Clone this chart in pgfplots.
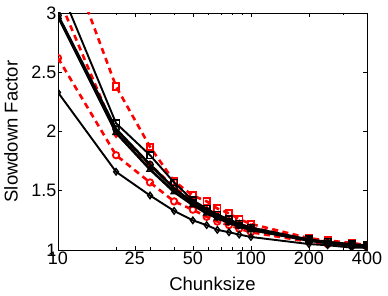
\documentclass[border=0pt]{standalone}
\usepackage{fontspec}
\setmainfont{Liberation Sans}
\usepackage{pgfplots}
\pgfplotsset{compat=1.18}
\usepackage{pgfplotstable}
\pgfplotstableread{
x    k1   k2   k3   k4   r1   r2   r3
10   3.25 2.97 2.98 2.33 3.70 2.62 3.14
20   2.07 1.99 2.02 1.66 2.38 1.80 1.98
30   1.80 1.68 1.72 1.46 1.87 1.57 1.72
40   1.57 1.49 1.52 1.33 1.58 1.41 1.53
50   1.42 1.38 1.40 1.25 1.46 1.34 1.41
59   1.35 1.31 1.33 1.21 1.41 1.28 1.34
67   1.30 1.27 1.28 1.17 1.35 1.24 1.29
77   1.26 1.23 1.24 1.15 1.31 1.21 1.25
87   1.22 1.20 1.21 1.13 1.26 1.18 1.22
100  1.19 1.17 1.18 1.11 1.22 1.15 1.19
200  1.09 1.08 1.08 1.05 1.10 1.07 1.09
250  1.07 1.06 1.06 1.04 1.08 1.05 1.07
333  1.05 1.04 1.04 1.02 1.06 1.04 1.05
400  1.04 1.03 1.03 1.02 1.04 1.03 1.04
}\data
\begin{document}
\begin{tikzpicture}
\begin{axis}[
  at={(0,0)}, anchor=south west,
  scale only axis, width=309pt, height=237pt,
  xmode=log, xmin=10, xmax=400, ymin=1, ymax=3,
  log basis x=10,
  xtick={10,25,50,100,200,400}, xticklabels={10,25,50,100,200,400},
  minor xtick={20,30,40,60,70,80,90,300},
  ytick={1,1.5,2,2.5,3}, yticklabels={1,1.5,2,2.5,3},
  tick align=inside, major tick length=4pt, minor tick length=2.5pt,
  tick style={black, line width=0.5pt},
  axis line style={line width=0.6pt},
  xlabel={Chunksize}, ylabel={Slowdown Factor},
  tick label style={font=\fontsize{18}{18}\selectfont},
  xticklabel style={inner sep=1.5pt},
  yticklabel style={inner sep=1.5pt},
  label style={font=\fontsize{18.5}{18.5}\selectfont},
  x label style={at={(axis description cs:0.5,-0.142)}, anchor=center},
  y label style={at={(axis description cs:-0.152,0.5)}, anchor=center},
  clip marker paths=true,
]
\addplot[red, line width=2.6pt, dash pattern=on 6pt off 4.5pt, mark=square, mark size=3.2pt, mark options={solid, line width=1.8pt, fill=white}] table[x=x, y=r1] {\data};
\addplot[red, line width=2.6pt, dash pattern=on 6pt off 4.5pt, mark=o, mark size=3.2pt, mark options={solid, line width=1.8pt, fill=white}] table[x=x, y=r2] {\data};
\addplot[red, line width=2.6pt, dash pattern=on 6pt off 4.5pt, mark=diamond, mark size=3.2pt, mark options={solid, line width=1.8pt, fill=white}] table[x=x, y=r3] {\data};
\addplot[black, line width=1.9pt, mark=square, mark size=3.2pt, mark options={solid, line width=1.4pt, fill=white}] table[x=x, y=k1] {\data};
\addplot[black, line width=2.6pt, mark=o, mark size=3.2pt, mark options={solid, line width=1.4pt, fill=white}] table[x=x, y=k3] {\data};
\addplot[black, line width=2.6pt, mark=triangle, mark size=3.5pt, mark options={solid, line width=1.4pt, fill=white}] table[x=x, y=k2] {\data};
\addplot[black, line width=1.9pt, mark=diamond, mark size=3.2pt, mark options={solid, line width=1.4pt, fill=white}] table[x=x, y=k4] {\data};
\end{axis}
\pgfresetboundingbox
\path (-58pt,-46pt) rectangle (330pt,250pt);
\end{tikzpicture}
\end{document}
